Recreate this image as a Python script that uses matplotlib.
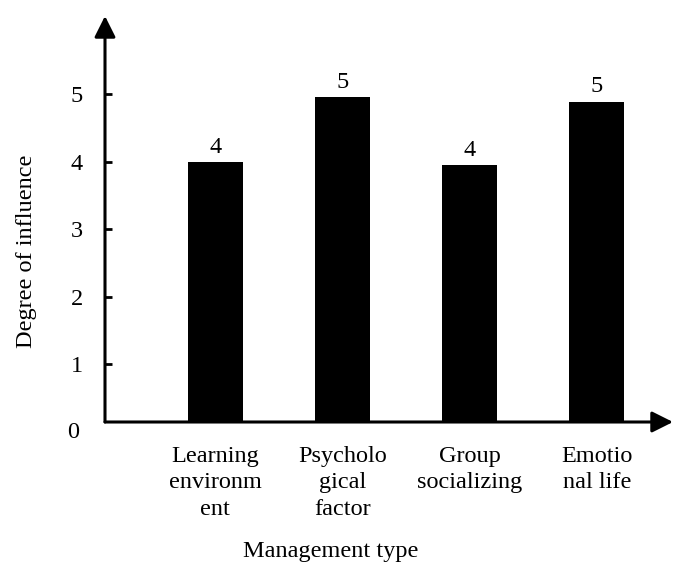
import matplotlib.pyplot as plt

categories = ['Learning\nenvironm\nent', 'Psycholo\ngical\nfactor',
              'Group\nsocializing', 'Emotio\nnal life']
values = [4.0, 4.96, 3.95, 4.89]
value_labels = ['4', '5', '4', '5']
yticks = [1, 2, 3, 4, 5]

plt.rcParams['font.family'] = ['Liberation Serif', 'DejaVu Serif']
fs = 17.5

fig = plt.figure(figsize=(6.75, 5.66), dpi=100)
ax = fig.add_axes([105 / 675, (566 - 422) / 566, (673 - 105) / 675, (422 - 16) / 566])

x = list(range(len(categories)))
bars = ax.bar(x, values, width=0.43, color='black')
ax.bar_label(bars, labels=value_labels, padding=3, fontsize=fs)

y0 = 0.14
ax.set_ylim(y0, 6.16)
ax.set_xlim(-0.867, 3.6)
ax.set_yticks(yticks)
ax.set_xticks(x)
ax.set_xticklabels(categories, linespacing=1.35)
ax.tick_params(axis='y', direction='in', length=5, width=2, pad=16, labelsize=fs)
ax.tick_params(axis='x', length=0, pad=17, labelsize=fs)
ax.text(-0.045, -0.025, '0', transform=ax.transAxes, ha='right', va='center', fontsize=fs)

for s in ax.spines.values():
    s.set_visible(False)
arrow = dict(arrowstyle='-|>,head_length=0.8,head_width=0.4', lw=2.2, color='black',
             shrinkA=0, shrinkB=0, mutation_scale=16)
ax.annotate('', xy=(1.0, 0), xytext=(0, 0), xycoords='axes fraction', arrowprops=arrow)
ax.annotate('', xy=(0, 1.0), xytext=(0, 0), xycoords='axes fraction', arrowprops=arrow)

ax.set_xlabel('Management type', fontsize=fs)
ax.xaxis.set_label_coords(0.398, -0.293)
ax.set_ylabel('Degree of influence', fontsize=fs)
ax.yaxis.set_label_coords(-0.12, 0.42)

fig.savefig('out.png', dpi=100)
